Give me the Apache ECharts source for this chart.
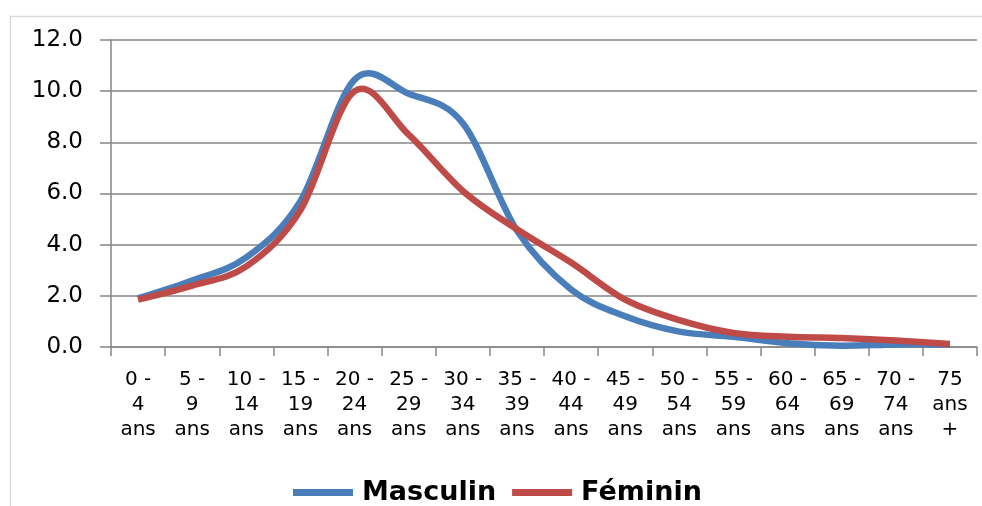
<!DOCTYPE html>
<html>
<head>
<meta charset="utf-8">
<script src="https://cdn.jsdelivr.net/npm/echarts@6/dist/echarts.min.js"></script>
<style>
html,body{margin:0;padding:0;background:#fff;}
#chart{width:982px;height:506px;}
</style>
</head>
<body>
<div id="chart"></div>
<script>
var categories = ["0 -\n4\nans","5 -\n9\nans","10 -\n14\nans","15 -\n19\nans","20 -\n24\nans","25 -\n29\nans","30 -\n34\nans","35 -\n39\nans","40 -\n44\nans","45 -\n49\nans","50 -\n54\nans","55 -\n59\nans","60 -\n64\nans","65 -\n69\nans","70 -\n74\nans","75\nans\n+"];
var masculin = [1.9, 2.6, 3.5, 5.7, 10.45, 9.9, 8.75, 4.55, 2.25, 1.2, 0.6, 0.4, 0.15, 0.05, 0.1, 0.1];
var feminin  = [1.85, 2.4, 3.15, 5.35, 10.0, 8.3, 6.1, 4.6, 3.3, 1.85, 1.05, 0.55, 0.4, 0.35, 0.25, 0.12];
var yTicks = [0, 2, 4, 6, 8, 10, 12];

var blue = '#4a7ebb', red = '#be4b48';

// Smooth (Catmull-Rom style, like a spreadsheet "smoothed line") through the points given by the axes
function makeRender(values, color) {
  return function (params, api) {
    if (params.dataIndex !== 0) return null;
    var pts = values.map(function (v, i) { return api.coord([i, v]); });
    var n = pts.length;
    var d = 'M' + pts[0][0] + ' ' + pts[0][1];
    for (var i = 0; i < n - 1; i++) {
      var p0 = pts[Math.max(i - 1, 0)], p1 = pts[i], p2 = pts[i + 1], p3 = pts[Math.min(i + 2, n - 1)];
      var c1x = p1[0] + (p2[0] - p0[0]) / 6, c1y = p1[1] + (p2[1] - p0[1]) / 6;
      var c2x = p2[0] - (p3[0] - p1[0]) / 6, c2y = p2[1] - (p3[1] - p1[1]) / 6;
      d += ' C' + c1x + ' ' + c1y + ' ' + c2x + ' ' + c2y + ' ' + p2[0] + ' ' + p2[1];
    }
    return {
      type: 'path',
      shape: {pathData: d},
      style: {fill: 'none', stroke: color, lineWidth: 6.5, lineJoin: 'round'}
    };
  };
}

var chart = echarts.init(document.getElementById('chart'));
chart.setOption({
  animation: false,
  textStyle: {fontFamily: 'DejaVu Sans'},
  graphic: [{
    type: 'rect', left: 8, top: 14,
    shape: {width: 990, height: 520},
    style: {fill: 'none', stroke: '#d9d9d9', lineWidth: 1.5}
  }],
  grid: {left: 111, right: 5, top: 40, bottom: 159},
  xAxis: {
    type: 'category',
    data: categories,
    boundaryGap: true,
    axisLine: {lineStyle: {color: '#868686', width: 1.5}},
    axisTick: {show: true, length: 9, lineStyle: {color: '#868686', width: 1.5}},
    axisLabel: {color: '#000', fontSize: 20, lineHeight: 25, margin: 20, interval: 0}
  },
  yAxis: {
    type: 'value',
    min: yTicks[0], max: yTicks[yTicks.length - 1], interval: 2,
    axisLine: {show: true, lineStyle: {color: '#868686', width: 1.5}},
    axisTick: {show: true, length: 11, lineStyle: {color: '#868686', width: 1.5}},
    splitLine: {lineStyle: {color: '#868686', width: 1.5}},
    axisLabel: {color: '#000', fontSize: 23, margin: 28, formatter: function (v) { return v.toFixed(1); }}
  },
  legend: {
    top: 474, left: 288,
    icon: 'rect', itemWidth: 60, itemHeight: 7, itemGap: 16,
    textStyle: {fontSize: 27, fontWeight: 'bold', color: '#000', padding: [0, 0, 0, 4]},
    data: ['Masculin', 'Féminin']
  },
  series: [
    {name: 'Masculin', type: 'custom', data: masculin.map(function (v, i) { return [i, v]; }),
     renderItem: makeRender(masculin, blue), itemStyle: {color: blue}},
    {name: 'Féminin', type: 'custom', data: feminin.map(function (v, i) { return [i, v]; }),
     renderItem: makeRender(feminin, red), itemStyle: {color: red}}
  ]
});
</script>
</body>
</html>
